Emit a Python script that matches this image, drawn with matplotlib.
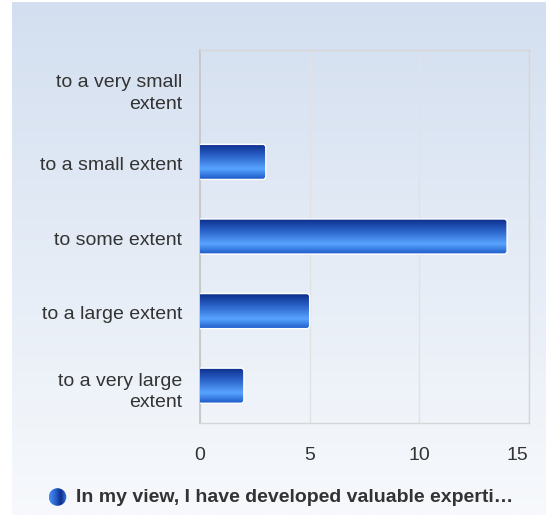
import numpy as np
import matplotlib
matplotlib.use("Agg")
import matplotlib.pyplot as plt
from matplotlib.patches import FancyBboxPatch, Circle
from matplotlib.colors import LinearSegmentedColormap
from matplotlib.transforms import ScaledTranslation

categories = ["to a very small\nextent", "to a small extent", "to some extent",
              "to a large extent", "to a very large\nextent"]
values = [0, 3, 14, 5, 2]
xticks = [0, 5, 10, 15]
legend_label = "In my view, I have developed valuable experti\u2026"

plt.rcParams['font.family'] = ['Liberation Sans', 'DejaVu Sans']

W, H = 546, 515
fig = plt.figure(figsize=(W / 100, H / 100), dpi=100)
fig.patch.set_facecolor("white")

# background gradient
bg = fig.add_axes([12 / W, 0, 1 - 12 / W, 1 - 2 / H])
bg.set_axis_off()
bg_cmap = LinearSegmentedColormap.from_list("bg", ["#d3dff0", "#f7f9fc"])
bg.imshow(np.linspace(0, 1, 256).reshape(-1, 1), aspect="auto", cmap=bg_cmap,
          extent=[0, 1, 0, 1], origin="upper")
bg.set_xlim(0, 1)
bg.set_ylim(0, 1)

ax = fig.add_axes([200 / W, (H - 423) / H, (529 - 200) / W, (423 - 50) / H])
ax.patch.set_alpha(0)
ax.set_xlim(0, 15)
ypos = np.arange(len(categories))
ax.set_ylim(len(categories) - 0.5, -0.5)

bars = ax.barh(ypos, values, height=0.47, color="none", edgecolor="none")

bar_cmap = LinearSegmentedColormap.from_list(
    "bar", [(0.0, "#0a2a86"), (0.35, "#2a62c8"), (0.72, "#58a4ff"), (1.0, "#1c5ac8")])
grad = np.linspace(0, 1, 128).reshape(-1, 1)
xpx = 329 / 15.0
ypx = 373 / 5.0
for b in bars:
    x0, y0 = b.get_x(), b.get_y()
    w, h = b.get_width(), b.get_height()
    if w <= 0:
        continue
    r = 3 / xpx
    patch = FancyBboxPatch((x0 - 0.3, y0), w + 0.3, h,
                           boxstyle=f"round,pad=0,rounding_size={r}",
                           mutation_aspect=xpx / ypx,
                           facecolor="none", edgecolor="white", lw=1.0, zorder=4)
    ax.add_patch(patch)
    im = ax.imshow(grad, aspect="auto", cmap=bar_cmap,
                   extent=[x0, x0 + w, y0 + h, y0], origin="upper", zorder=3)
    im.set_clip_path(patch)

ax.set_xlim(0, 15)
ax.set_ylim(len(categories) - 0.5, -0.5)

ax.set_xticks(xticks)
ax.set_xticklabels([str(t) for t in xticks])
ax.set_yticks(ypos)
ax.set_yticklabels(categories, ha="right", multialignment="right")
ax.tick_params(axis="both", length=0, labelsize=14, labelcolor="#333333")
ax.tick_params(axis="x", pad=17)
ax.tick_params(axis="y", pad=13)
for lbl in ax.get_yticklabels():
    lbl.set_linespacing(1.38)
    lbl.set_transform(lbl.get_transform() + ScaledTranslation(0, -1.8 / 100, fig.dpi_scale_trans))
xl = ax.get_xticklabels()
xl[-1].set_ha("right")
xl[-1].set_transform(xl[-1].get_transform() + ScaledTranslation(-1 / 100, 0, fig.dpi_scale_trans))

ax.grid(axis="x", color="#e2e2e2", lw=1)
ax.set_axisbelow(True)
for s in ["top", "right", "bottom"]:
    ax.spines[s].set_color("#d6d6d6")
    ax.spines[s].set_linewidth(1)
ax.spines["left"].set_color("#c4c4c4")
ax.spines["left"].set_linewidth(1.2)

# legend
ly = (H - 497) / H
fig.text(76 / W, ly, legend_label, fontsize=14, fontweight="bold",
         color="#333333", ha="left", va="center")
lax = fig.add_axes([(57.5 - 9) / W, ly - 9 / H, 18 / W, 18 / H])
lax.set_axis_off()
lax.set_xlim(0, 1)
lax.set_ylim(0, 1)
circ = Circle((0.5, 0.5), 0.49, transform=lax.transData, facecolor="none", edgecolor="none")
lax.add_patch(circ)
leg_cmap = LinearSegmentedColormap.from_list("leg", ["#4a8ff2", "#2a66d0", "#0c2f8c", "#3a7ee6"])
li = lax.imshow(np.linspace(0, 1, 64).reshape(1, -1), aspect="auto", cmap=leg_cmap,
                extent=[0, 1, 0, 1])
li.set_clip_path(circ)

fig.savefig("out.png", dpi=100)
